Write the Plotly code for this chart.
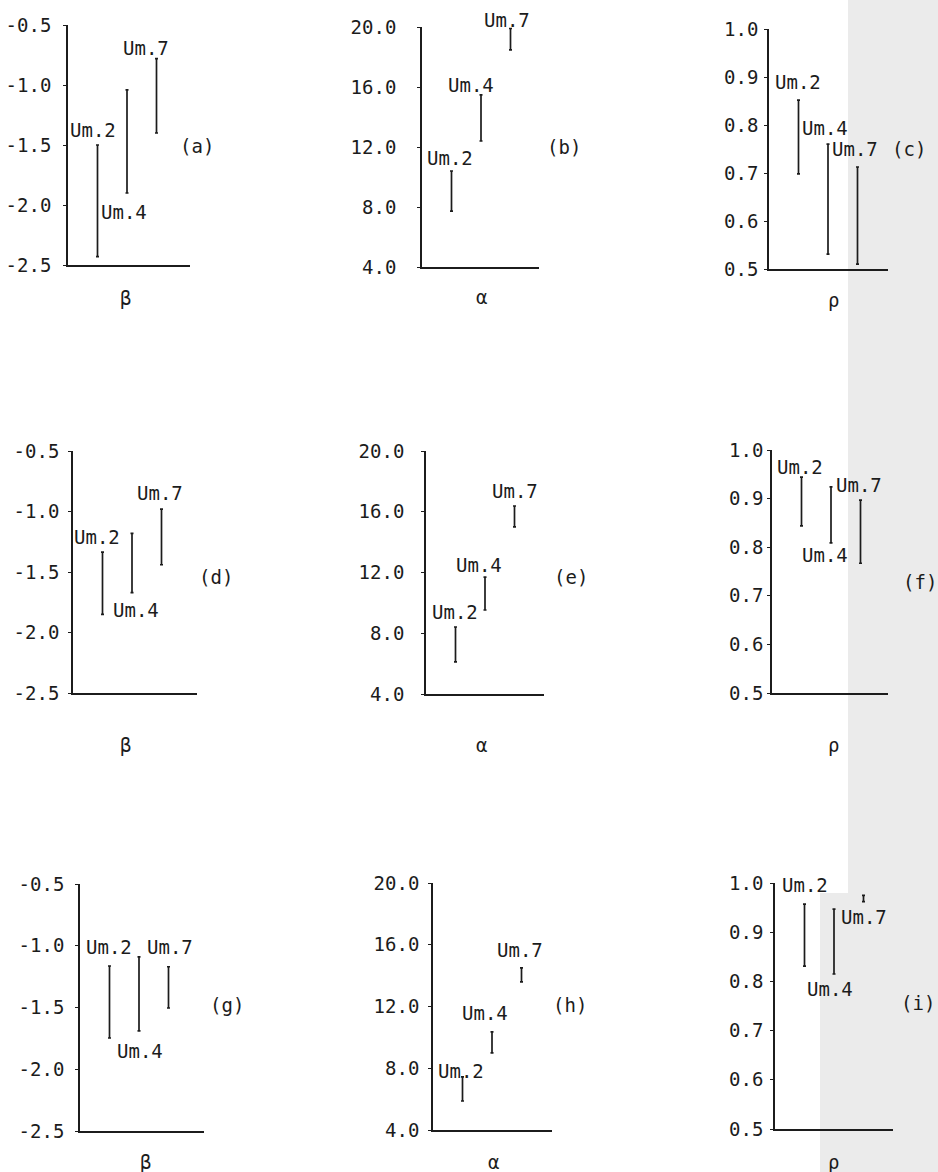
import plotly.graph_objects as go

W, H = 938, 1172

groups = ["Um.2", "Um.4", "Um.7"]
group_x = [1, 2, 3]

# beta panels
a_low = [-2.43, -1.90, -1.40]
a_high = [-1.50, -1.04, -0.78]
d_low = [-1.85, -1.67, -1.44]
d_high = [-1.335, -1.18, -0.98]
g_low = [-1.747, -1.69, -1.504]
g_high = [-1.164, -1.09, -1.17]
# alpha panels
b_low = [7.73, 12.4, 18.47]
b_high = [10.4, 15.47, 19.9]
e_low = [6.11, 9.53, 15.0]
e_high = [8.41, 11.7, 16.38]
h_low = [5.88, 8.99, 13.59]
h_high = [7.44, 10.35, 14.5]
# rho panels
c_low = [0.698, 0.531, 0.51]
c_high = [0.852, 0.76, 0.7125]
f_low = [0.844, 0.809, 0.767]
f_high = [0.944, 0.924, 0.897]
i_low = [0.831, 0.815, 0.962]
i_high = [0.957, 0.947, 0.975]

beta_ticks = [-2.5, -2.0, -1.5, -1.0, -0.5]
beta_ticktext = ["-2.5", "-2.0", "-1.5", "-1.0", "-0.5"]
alpha_ticks = [4.0, 8.0, 12.0, 16.0, 20.0]
alpha_ticktext = ["4.0", "8.0", "12.0", "16.0", "20.0"]
rho_ticks = [0.5, 0.6, 0.7, 0.8, 0.9, 1.0]
rho_ticktext = ["0.5", "0.6", "0.7", "0.8", "0.9", "1.0"]

panel_letters = ["(a)", "(b)", "(c)", "(d)", "(e)", "(f)", "(g)", "(h)", "(i)"]
param_names = ["β", "α", "ρ"]

FONT = "DejaVu Sans Mono"
INK = "#1c1c1c"
FS = 19

# (name, low, high, kind, box px [x0,x1,ytop,ybot], tick standoff,
#  label centers px for Um.2/4/7, letter pos, param pos)
panels = [
    ("a", a_low, a_high, 0, (68, 190, 25, 265), 8,
     [(93, 130), (124, 212), (146, 48)], (197, 146), (125, 298)),
    ("b", b_low, b_high, 1, (422, 539, 27, 267), 17,
     [(450, 158), (471, 85), (507, 20)], (564, 147), (482, 297)),
    ("c", c_low, c_high, 2, (769, 888, 29, 269), 2,
     [(798, 82), (825, 128), (855, 149)], (909, 149), (833, 300)),
    ("d", d_low, d_high, 0, (73, 197, 451, 693), 5,
     [(97, 537), (136, 610), (160, 493)], (216, 577), (125, 745)),
    ("e", e_low, e_high, 1, (426, 544, 451, 694), 13,
     [(455, 612), (479, 565), (515, 491)], (571, 577), (482, 745)),
    ("f", f_low, f_high, 2, (772, 888, 450, 693), 0,
     [(800, 467), (825, 555), (859, 485)], (920, 582), (833, 745)),
    ("g", g_low, g_high, 0, (80, 204, 884, 1131), 7,
     [(109, 947), (140, 1051), (170, 947)], (227, 1005), (145, 1162)),
    ("h", h_low, h_high, 1, (433, 552, 883, 1130), 5,
     [(461, 1071), (485, 1013), (520, 950)], (570, 1005), (493, 1162)),
    ("i", i_low, i_high, 2, (775, 893, 883, 1129), 3,
     [(805, 885), (830, 989), (864, 917)], (918, 1003), (833, 1162)),
]

tick_sets = [
    (beta_ticks, beta_ticktext, [-2.5, -0.5]),
    (alpha_ticks, alpha_ticktext, [4.0, 20.0]),
    (rho_ticks, rho_ticktext, [0.5, 1.0]),
]

PX_PER_UNIT = 29.5

fig = go.Figure()
annotations = []
layout_axes = {}


def px(x):
    return x / W


def py(y):
    return 1 - y / H


for k, (name, lo, hi, kind, box, standoff, lbl, letter, param) in enumerate(panels):
    n = "" if k == 0 else str(k + 1)
    x0, x1, yt, yb = box
    mid = [(l + h) / 2 for l, h in zip(lo, hi)]
    half = [(h - l) / 2 for l, h in zip(lo, hi)]
    fig.add_trace(go.Scatter(
        x=group_x, y=mid, mode="markers",
        marker=dict(size=1, color="rgba(0,0,0,0)"),
        error_y=dict(type="data", array=half, symmetric=True,
                     width=1.5, thickness=1.7, color=INK),
        xaxis="x" + n, yaxis="y" + n, showlegend=False, hoverinfo="skip",
    ))
    tv, tt, rng = tick_sets[kind]
    layout_axes["xaxis" + n] = dict(
        domain=[px(x0), px(x1)], range=[0, (x1 - x0) / PX_PER_UNIT],
        showline=True, linecolor=INK, linewidth=1.7, showgrid=False,
        zeroline=False, showticklabels=False, ticks="", anchor="y" + n,
        fixedrange=True, automargin=False,
    )
    layout_axes["yaxis" + n] = dict(
        domain=[py(yb), py(yt)], range=rng,
        showline=True, linecolor=INK, linewidth=1.7, showgrid=False,
        zeroline=False, tickvals=tv, ticktext=tt, ticks="outside",
        ticklen=3, tickwidth=1.4, tickcolor=INK, anchor="x" + n,
        ticklabelstandoff=standoff,
        tickfont=dict(family=FONT, size=FS, color=INK),
        fixedrange=True, automargin=False,
    )
    for g, (lx, ly) in zip(groups, lbl):
        annotations.append(dict(
            x=px(lx), y=py(ly), xref="paper", yref="paper", text=g,
            showarrow=False, xanchor="center", yanchor="middle",
            font=dict(family=FONT, size=FS, color=INK)))
    annotations.append(dict(
        x=px(letter[0]), y=py(letter[1]), xref="paper", yref="paper",
        text=panel_letters[k], showarrow=False, xanchor="center",
        yanchor="middle", font=dict(family=FONT, size=FS, color=INK)))
    annotations.append(dict(
        x=px(param[0]), y=py(param[1]), xref="paper", yref="paper",
        text=param_names[kind], showarrow=False, xanchor="center",
        yanchor="middle", font=dict(family=FONT, size=FS, color=INK)))

shapes = [
    dict(type="rect", xref="paper", yref="paper", x0=px(848), x1=1,
         y0=0, y1=1, fillcolor="#ebebeb", line=dict(width=0), layer="below"),
    dict(type="rect", xref="paper", yref="paper", x0=px(820), x1=px(848),
         y0=0, y1=py(893), fillcolor="#ebebeb", line=dict(width=0), layer="below"),
]

fig.update_layout(
    width=W, height=H, autosize=False,
    margin=dict(l=0, r=0, t=0, b=0, pad=0, autoexpand=False),
    paper_bgcolor="white", plot_bgcolor="rgba(0,0,0,0)",
    annotations=annotations, shapes=shapes,
    **layout_axes,
)

post = (
    "document.documentElement.style.margin='0';"
    "document.body.style.margin='0';document.body.style.padding='0';"
    "document.documentElement.style.overflow='hidden';"
    "document.body.style.overflow='hidden';"
    "var gd=document.getElementById('{plot_id}');"
    "gd.style.position='fixed';gd.style.left='0px';gd.style.top='0px';"
)

fig.write_html("out.html", config={"displayModeBar": False, "responsive": False},
               post_script=post)
